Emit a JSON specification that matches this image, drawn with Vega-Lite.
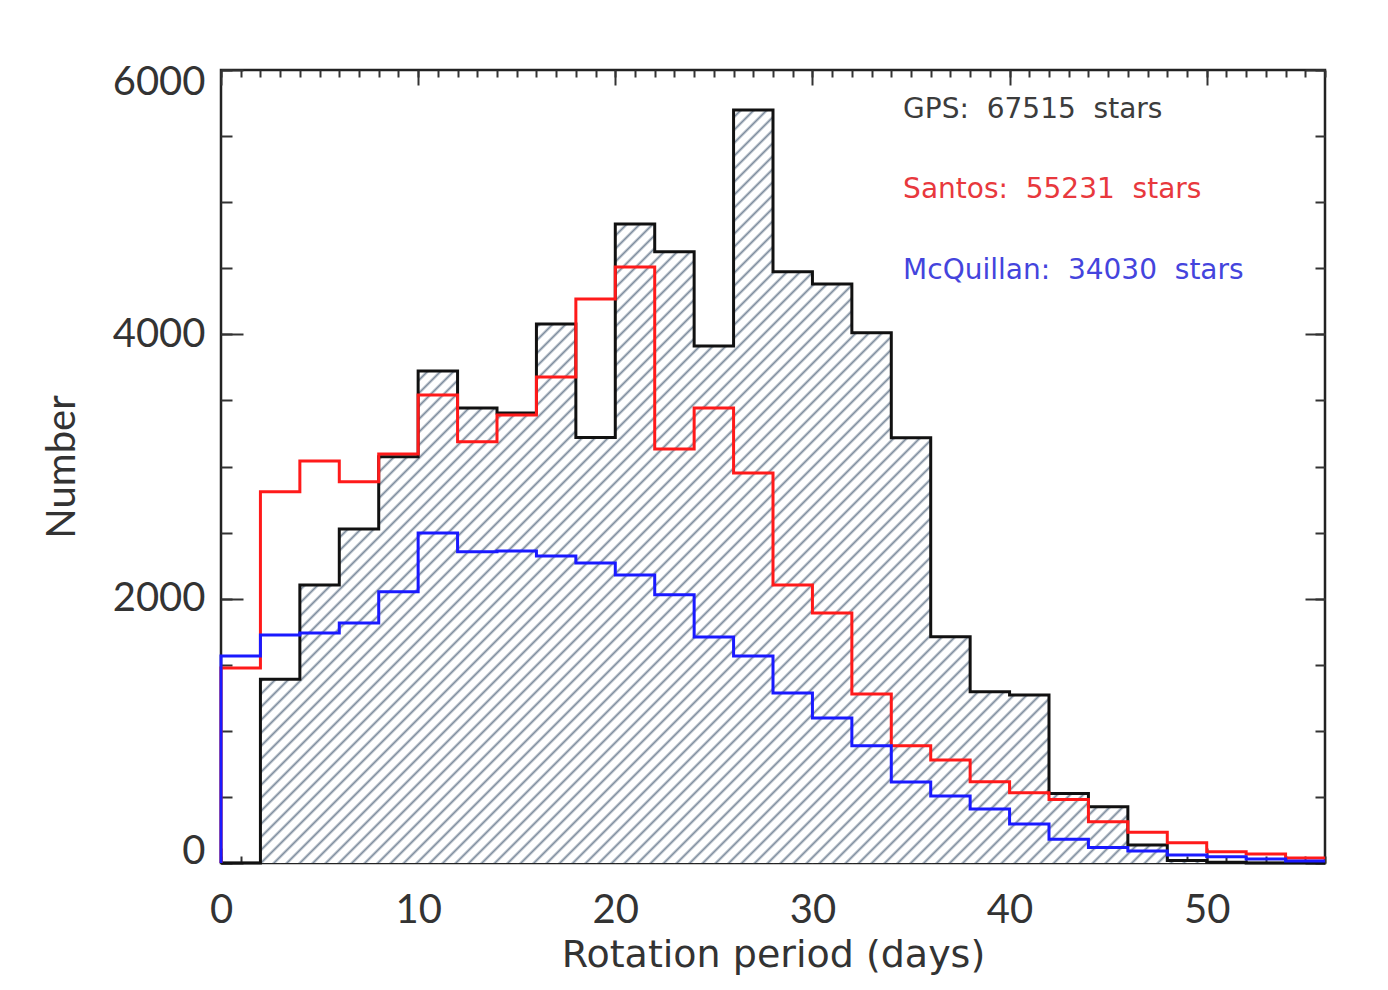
{
"$schema": "https://vega.github.io/schema/vega-lite/v6.json",
"width": 1104, "height": 793,
"autosize": {"type": "none"},
"padding": {"left": 221, "top": 70, "right": 63, "bottom": 127},
"background": "white",
"config": {
  "view": {"stroke": "#222", "strokeWidth": 2.5},
  "axis": {"domain": false, "grid": false, "zindex": 1, "tickColor": "#333", "tickWidth": 2, "labelFont": "Lato", "titleFont": "Lato", "labelFontSize": 40, "titleFontSize": 40, "labelColor": "#333", "titleColor": "#333", "titleFontWeight": "normal"}
},
"datasets": {
  "hist": [
    {"series":"GPS","start":0,"n":0},{"series":"GPS","start":2,"n":1390},{"series":"GPS","start":4,"n":2103},{"series":"GPS","start":6,"n":2527},{"series":"GPS","start":8,"n":3074},{"series":"GPS","start":10,"n":3723},{"series":"GPS","start":12,"n":3442},{"series":"GPS","start":14,"n":3405},{"series":"GPS","start":16,"n":4078},{"series":"GPS","start":18,"n":3220},{"series":"GPS","start":20,"n":4835},{"series":"GPS","start":22,"n":4625},{"series":"GPS","start":24,"n":3912},{"series":"GPS","start":26,"n":5697},{"series":"GPS","start":28,"n":4473},{"series":"GPS","start":30,"n":4380},{"series":"GPS","start":32,"n":4012},{"series":"GPS","start":34,"n":3218},{"series":"GPS","start":36,"n":1712},{"series":"GPS","start":38,"n":1296},{"series":"GPS","start":40,"n":1271},{"series":"GPS","start":42,"n":525},{"series":"GPS","start":44,"n":425},{"series":"GPS","start":46,"n":136},{"series":"GPS","start":48,"n":18},{"series":"GPS","start":50,"n":5},{"series":"GPS","start":52,"n":0},{"series":"GPS","start":54,"n":0},{"series":"GPS","start":56,"n":0},
    {"series":"Santos","start":0,"n":0},{"series":"Santos","start":0,"n":1475},{"series":"Santos","start":2,"n":2809},{"series":"Santos","start":4,"n":3042},{"series":"Santos","start":6,"n":2885},{"series":"Santos","start":8,"n":3095},{"series":"Santos","start":10,"n":3541},{"series":"Santos","start":12,"n":3188},{"series":"Santos","start":14,"n":3390},{"series":"Santos","start":16,"n":3677},{"series":"Santos","start":18,"n":4267},{"series":"Santos","start":20,"n":4510},{"series":"Santos","start":22,"n":3132},{"series":"Santos","start":24,"n":3442},{"series":"Santos","start":26,"n":2950},{"series":"Santos","start":28,"n":2103},{"series":"Santos","start":30,"n":1891},{"series":"Santos","start":32,"n":1278},{"series":"Santos","start":34,"n":887},{"series":"Santos","start":36,"n":779},{"series":"Santos","start":38,"n":615},{"series":"Santos","start":40,"n":532},{"series":"Santos","start":42,"n":480},{"series":"Santos","start":44,"n":312},{"series":"Santos","start":46,"n":233},{"series":"Santos","start":48,"n":154},{"series":"Santos","start":50,"n":86},{"series":"Santos","start":52,"n":68},{"series":"Santos","start":54,"n":38},{"series":"Santos","start":56,"n":38},
    {"series":"McQuillan","start":0,"n":0},{"series":"McQuillan","start":0,"n":1566},{"series":"McQuillan","start":2,"n":1725},{"series":"McQuillan","start":4,"n":1740},{"series":"McQuillan","start":6,"n":1816},{"series":"McQuillan","start":8,"n":2053},{"series":"McQuillan","start":10,"n":2497},{"series":"McQuillan","start":12,"n":2355},{"series":"McQuillan","start":14,"n":2360},{"series":"McQuillan","start":16,"n":2323},{"series":"McQuillan","start":18,"n":2270},{"series":"McQuillan","start":20,"n":2180},{"series":"McQuillan","start":22,"n":2030},{"series":"McQuillan","start":24,"n":1710},{"series":"McQuillan","start":26,"n":1566},{"series":"McQuillan","start":28,"n":1286},{"series":"McQuillan","start":30,"n":1097},{"series":"McQuillan","start":32,"n":887},{"series":"McQuillan","start":34,"n":613},{"series":"McQuillan","start":36,"n":507},{"series":"McQuillan","start":38,"n":408},{"series":"McQuillan","start":40,"n":295},{"series":"McQuillan","start":42,"n":180},{"series":"McQuillan","start":44,"n":118},{"series":"McQuillan","start":46,"n":90},{"series":"McQuillan","start":48,"n":60},{"series":"McQuillan","start":50,"n":48},{"series":"McQuillan","start":52,"n":30},{"series":"McQuillan","start":54,"n":15},{"series":"McQuillan","start":56,"n":15}
  ],
  "notes": [
    {"label":"GPS:\u00a0 67515\u00a0 stars","c":"GPS","lx":34.6,"ly":5697},
    {"label":"Santos:\u00a0 55231\u00a0 stars","c":"Santos","lx":34.6,"ly":5092},
    {"label":"McQuillan:\u00a0 34030\u00a0 stars","c":"McQuillan","lx":34.6,"ly":4479}
  ]
},
"layer": [
  {
    "data": {"name": "hist"},
    "transform": [{"filter": "datum.series === 'GPS'"}],
    "mark": {"type": "area", "interpolate": "step-after", "fill": {"gradient": "linear", "x1": 0, "y1": 0, "x2": 1.148, "y2": 0.783, "stops": [
{"offset":0,"color":"#7e8d9e"},{"offset":0.0015,"color":"#fff"},{"offset":0.0055,"color":"#fff"},
{"offset":0.007,"color":"#7e8d9e"},{"offset":0.0085,"color":"#fff"},{"offset":0.0125,"color":"#fff"},
{"offset":0.014,"color":"#7e8d9e"},{"offset":0.0155,"color":"#fff"},{"offset":0.0195,"color":"#fff"},
{"offset":0.021,"color":"#7e8d9e"},{"offset":0.0225,"color":"#fff"},{"offset":0.0265,"color":"#fff"},
{"offset":0.028,"color":"#7e8d9e"},{"offset":0.0295,"color":"#fff"},{"offset":0.0335,"color":"#fff"},
{"offset":0.035,"color":"#7e8d9e"},{"offset":0.0365,"color":"#fff"},{"offset":0.0405,"color":"#fff"},
{"offset":0.042,"color":"#7e8d9e"},{"offset":0.0435,"color":"#fff"},{"offset":0.0475,"color":"#fff"},
{"offset":0.049,"color":"#7e8d9e"},{"offset":0.0505,"color":"#fff"},{"offset":0.0545,"color":"#fff"},
{"offset":0.056,"color":"#7e8d9e"},{"offset":0.0575,"color":"#fff"},{"offset":0.0615,"color":"#fff"},
{"offset":0.063,"color":"#7e8d9e"},{"offset":0.0645,"color":"#fff"},{"offset":0.0685,"color":"#fff"},
{"offset":0.07,"color":"#7e8d9e"},{"offset":0.0715,"color":"#fff"},{"offset":0.0755,"color":"#fff"},
{"offset":0.077,"color":"#7e8d9e"},{"offset":0.0785,"color":"#fff"},{"offset":0.0825,"color":"#fff"},
{"offset":0.084,"color":"#7e8d9e"},{"offset":0.0855,"color":"#fff"},{"offset":0.0895,"color":"#fff"},
{"offset":0.091,"color":"#7e8d9e"},{"offset":0.0925,"color":"#fff"},{"offset":0.0965,"color":"#fff"},
{"offset":0.098,"color":"#7e8d9e"},{"offset":0.0995,"color":"#fff"},{"offset":0.1035,"color":"#fff"},
{"offset":0.105,"color":"#7e8d9e"},{"offset":0.1065,"color":"#fff"},{"offset":0.1105,"color":"#fff"},
{"offset":0.112,"color":"#7e8d9e"},{"offset":0.1135,"color":"#fff"},{"offset":0.1175,"color":"#fff"},
{"offset":0.119,"color":"#7e8d9e"},{"offset":0.1205,"color":"#fff"},{"offset":0.1245,"color":"#fff"},
{"offset":0.126,"color":"#7e8d9e"},{"offset":0.1275,"color":"#fff"},{"offset":0.1315,"color":"#fff"},
{"offset":0.133,"color":"#7e8d9e"},{"offset":0.1345,"color":"#fff"},{"offset":0.1385,"color":"#fff"},
{"offset":0.14,"color":"#7e8d9e"},{"offset":0.1415,"color":"#fff"},{"offset":0.1455,"color":"#fff"},
{"offset":0.147,"color":"#7e8d9e"},{"offset":0.1485,"color":"#fff"},{"offset":0.1525,"color":"#fff"},
{"offset":0.154,"color":"#7e8d9e"},{"offset":0.1555,"color":"#fff"},{"offset":0.1595,"color":"#fff"},
{"offset":0.161,"color":"#7e8d9e"},{"offset":0.1625,"color":"#fff"},{"offset":0.1665,"color":"#fff"},
{"offset":0.168,"color":"#7e8d9e"},{"offset":0.1695,"color":"#fff"},{"offset":0.1735,"color":"#fff"},
{"offset":0.175,"color":"#7e8d9e"},{"offset":0.1765,"color":"#fff"},{"offset":0.1805,"color":"#fff"},
{"offset":0.182,"color":"#7e8d9e"},{"offset":0.1835,"color":"#fff"},{"offset":0.1875,"color":"#fff"},
{"offset":0.189,"color":"#7e8d9e"},{"offset":0.1905,"color":"#fff"},{"offset":0.1945,"color":"#fff"},
{"offset":0.196,"color":"#7e8d9e"},{"offset":0.1975,"color":"#fff"},{"offset":0.2015,"color":"#fff"},
{"offset":0.203,"color":"#7e8d9e"},{"offset":0.2045,"color":"#fff"},{"offset":0.2085,"color":"#fff"},
{"offset":0.21,"color":"#7e8d9e"},{"offset":0.2115,"color":"#fff"},{"offset":0.2155,"color":"#fff"},
{"offset":0.217,"color":"#7e8d9e"},{"offset":0.2185,"color":"#fff"},{"offset":0.2225,"color":"#fff"},
{"offset":0.224,"color":"#7e8d9e"},{"offset":0.2255,"color":"#fff"},{"offset":0.2295,"color":"#fff"},
{"offset":0.231,"color":"#7e8d9e"},{"offset":0.2325,"color":"#fff"},{"offset":0.2365,"color":"#fff"},
{"offset":0.238,"color":"#7e8d9e"},{"offset":0.2395,"color":"#fff"},{"offset":0.2435,"color":"#fff"},
{"offset":0.245,"color":"#7e8d9e"},{"offset":0.2465,"color":"#fff"},{"offset":0.2505,"color":"#fff"},
{"offset":0.252,"color":"#7e8d9e"},{"offset":0.2535,"color":"#fff"},{"offset":0.2575,"color":"#fff"},
{"offset":0.259,"color":"#7e8d9e"},{"offset":0.2605,"color":"#fff"},{"offset":0.2645,"color":"#fff"},
{"offset":0.266,"color":"#7e8d9e"},{"offset":0.2675,"color":"#fff"},{"offset":0.2715,"color":"#fff"},
{"offset":0.273,"color":"#7e8d9e"},{"offset":0.2745,"color":"#fff"},{"offset":0.2785,"color":"#fff"},
{"offset":0.28,"color":"#7e8d9e"},{"offset":0.2815,"color":"#fff"},{"offset":0.2855,"color":"#fff"},
{"offset":0.287,"color":"#7e8d9e"},{"offset":0.2885,"color":"#fff"},{"offset":0.2925,"color":"#fff"},
{"offset":0.294,"color":"#7e8d9e"},{"offset":0.2955,"color":"#fff"},{"offset":0.2995,"color":"#fff"},
{"offset":0.301,"color":"#7e8d9e"},{"offset":0.3025,"color":"#fff"},{"offset":0.3065,"color":"#fff"},
{"offset":0.308,"color":"#7e8d9e"},{"offset":0.3095,"color":"#fff"},{"offset":0.3135,"color":"#fff"},
{"offset":0.315,"color":"#7e8d9e"},{"offset":0.3165,"color":"#fff"},{"offset":0.3205,"color":"#fff"},
{"offset":0.322,"color":"#7e8d9e"},{"offset":0.3235,"color":"#fff"},{"offset":0.3275,"color":"#fff"},
{"offset":0.329,"color":"#7e8d9e"},{"offset":0.3305,"color":"#fff"},{"offset":0.3345,"color":"#fff"},
{"offset":0.336,"color":"#7e8d9e"},{"offset":0.3375,"color":"#fff"},{"offset":0.3415,"color":"#fff"},
{"offset":0.343,"color":"#7e8d9e"},{"offset":0.3445,"color":"#fff"},{"offset":0.3485,"color":"#fff"},
{"offset":0.35,"color":"#7e8d9e"},{"offset":0.3515,"color":"#fff"},{"offset":0.3555,"color":"#fff"},
{"offset":0.357,"color":"#7e8d9e"},{"offset":0.3585,"color":"#fff"},{"offset":0.3625,"color":"#fff"},
{"offset":0.364,"color":"#7e8d9e"},{"offset":0.3655,"color":"#fff"},{"offset":0.3695,"color":"#fff"},
{"offset":0.371,"color":"#7e8d9e"},{"offset":0.3725,"color":"#fff"},{"offset":0.3765,"color":"#fff"},
{"offset":0.378,"color":"#7e8d9e"},{"offset":0.3795,"color":"#fff"},{"offset":0.3835,"color":"#fff"},
{"offset":0.385,"color":"#7e8d9e"},{"offset":0.3865,"color":"#fff"},{"offset":0.3905,"color":"#fff"},
{"offset":0.392,"color":"#7e8d9e"},{"offset":0.3935,"color":"#fff"},{"offset":0.3975,"color":"#fff"},
{"offset":0.399,"color":"#7e8d9e"},{"offset":0.4005,"color":"#fff"},{"offset":0.4045,"color":"#fff"},
{"offset":0.406,"color":"#7e8d9e"},{"offset":0.4075,"color":"#fff"},{"offset":0.4115,"color":"#fff"},
{"offset":0.413,"color":"#7e8d9e"},{"offset":0.4145,"color":"#fff"},{"offset":0.4185,"color":"#fff"},
{"offset":0.42,"color":"#7e8d9e"},{"offset":0.4215,"color":"#fff"},{"offset":0.4255,"color":"#fff"},
{"offset":0.427,"color":"#7e8d9e"},{"offset":0.4285,"color":"#fff"},{"offset":0.4325,"color":"#fff"},
{"offset":0.434,"color":"#7e8d9e"},{"offset":0.4355,"color":"#fff"},{"offset":0.4395,"color":"#fff"},
{"offset":0.441,"color":"#7e8d9e"},{"offset":0.4425,"color":"#fff"},{"offset":0.4465,"color":"#fff"},
{"offset":0.448,"color":"#7e8d9e"},{"offset":0.4495,"color":"#fff"},{"offset":0.4535,"color":"#fff"},
{"offset":0.455,"color":"#7e8d9e"},{"offset":0.4565,"color":"#fff"},{"offset":0.4605,"color":"#fff"},
{"offset":0.462,"color":"#7e8d9e"},{"offset":0.4635,"color":"#fff"},{"offset":0.4675,"color":"#fff"},
{"offset":0.469,"color":"#7e8d9e"},{"offset":0.4705,"color":"#fff"},{"offset":0.4745,"color":"#fff"},
{"offset":0.476,"color":"#7e8d9e"},{"offset":0.4775,"color":"#fff"},{"offset":0.4815,"color":"#fff"},
{"offset":0.483,"color":"#7e8d9e"},{"offset":0.4845,"color":"#fff"},{"offset":0.4885,"color":"#fff"},
{"offset":0.49,"color":"#7e8d9e"},{"offset":0.4915,"color":"#fff"},{"offset":0.4955,"color":"#fff"},
{"offset":0.497,"color":"#7e8d9e"},{"offset":0.4985,"color":"#fff"},{"offset":0.5025,"color":"#fff"},
{"offset":0.504,"color":"#7e8d9e"},{"offset":0.5055,"color":"#fff"},{"offset":0.5095,"color":"#fff"},
{"offset":0.511,"color":"#7e8d9e"},{"offset":0.5125,"color":"#fff"},{"offset":0.5165,"color":"#fff"},
{"offset":0.518,"color":"#7e8d9e"},{"offset":0.5195,"color":"#fff"},{"offset":0.5235,"color":"#fff"},
{"offset":0.525,"color":"#7e8d9e"},{"offset":0.5265,"color":"#fff"},{"offset":0.5305,"color":"#fff"},
{"offset":0.532,"color":"#7e8d9e"},{"offset":0.5335,"color":"#fff"},{"offset":0.5375,"color":"#fff"},
{"offset":0.539,"color":"#7e8d9e"},{"offset":0.5405,"color":"#fff"},{"offset":0.5445,"color":"#fff"},
{"offset":0.546,"color":"#7e8d9e"},{"offset":0.5475,"color":"#fff"},{"offset":0.5515,"color":"#fff"},
{"offset":0.553,"color":"#7e8d9e"},{"offset":0.5545,"color":"#fff"},{"offset":0.5585,"color":"#fff"},
{"offset":0.56,"color":"#7e8d9e"},{"offset":0.5615,"color":"#fff"},{"offset":0.5655,"color":"#fff"},
{"offset":0.567,"color":"#7e8d9e"},{"offset":0.5685,"color":"#fff"},{"offset":0.5725,"color":"#fff"},
{"offset":0.574,"color":"#7e8d9e"},{"offset":0.5755,"color":"#fff"},{"offset":0.5795,"color":"#fff"},
{"offset":0.581,"color":"#7e8d9e"},{"offset":0.5825,"color":"#fff"},{"offset":0.5865,"color":"#fff"},
{"offset":0.588,"color":"#7e8d9e"},{"offset":0.5895,"color":"#fff"},{"offset":0.5935,"color":"#fff"},
{"offset":0.595,"color":"#7e8d9e"},{"offset":0.5965,"color":"#fff"},{"offset":0.6005,"color":"#fff"},
{"offset":0.602,"color":"#7e8d9e"},{"offset":0.6035,"color":"#fff"},{"offset":0.6075,"color":"#fff"},
{"offset":0.609,"color":"#7e8d9e"},{"offset":0.6105,"color":"#fff"},{"offset":0.6145,"color":"#fff"},
{"offset":0.616,"color":"#7e8d9e"},{"offset":0.6175,"color":"#fff"},{"offset":0.6215,"color":"#fff"},
{"offset":0.623,"color":"#7e8d9e"},{"offset":0.6245,"color":"#fff"},{"offset":0.6285,"color":"#fff"},
{"offset":0.63,"color":"#7e8d9e"},{"offset":0.6315,"color":"#fff"},{"offset":0.6355,"color":"#fff"},
{"offset":0.637,"color":"#7e8d9e"},{"offset":0.6385,"color":"#fff"},{"offset":0.6425,"color":"#fff"},
{"offset":0.644,"color":"#7e8d9e"},{"offset":0.6455,"color":"#fff"},{"offset":0.6495,"color":"#fff"},
{"offset":0.651,"color":"#7e8d9e"},{"offset":0.6525,"color":"#fff"},{"offset":0.6565,"color":"#fff"},
{"offset":0.658,"color":"#7e8d9e"},{"offset":0.6595,"color":"#fff"},{"offset":0.6635,"color":"#fff"},
{"offset":0.665,"color":"#7e8d9e"},{"offset":0.6665,"color":"#fff"},{"offset":0.6705,"color":"#fff"},
{"offset":0.672,"color":"#7e8d9e"},{"offset":0.6735,"color":"#fff"},{"offset":0.6775,"color":"#fff"},
{"offset":0.679,"color":"#7e8d9e"},{"offset":0.6805,"color":"#fff"},{"offset":0.6845,"color":"#fff"},
{"offset":0.686,"color":"#7e8d9e"},{"offset":0.6875,"color":"#fff"},{"offset":0.6915,"color":"#fff"},
{"offset":0.693,"color":"#7e8d9e"},{"offset":0.6945,"color":"#fff"},{"offset":0.6985,"color":"#fff"},
{"offset":0.7,"color":"#7e8d9e"},{"offset":0.7015,"color":"#fff"},{"offset":0.7055,"color":"#fff"},
{"offset":0.707,"color":"#7e8d9e"},{"offset":0.7085,"color":"#fff"},{"offset":0.7125,"color":"#fff"},
{"offset":0.714,"color":"#7e8d9e"},{"offset":0.7155,"color":"#fff"},{"offset":0.7195,"color":"#fff"},
{"offset":0.721,"color":"#7e8d9e"},{"offset":0.7225,"color":"#fff"},{"offset":0.7265,"color":"#fff"},
{"offset":0.728,"color":"#7e8d9e"},{"offset":0.7295,"color":"#fff"},{"offset":0.7335,"color":"#fff"},
{"offset":0.735,"color":"#7e8d9e"},{"offset":0.7365,"color":"#fff"},{"offset":0.7405,"color":"#fff"},
{"offset":0.742,"color":"#7e8d9e"},{"offset":0.7435,"color":"#fff"},{"offset":0.7475,"color":"#fff"},
{"offset":0.749,"color":"#7e8d9e"},{"offset":0.7505,"color":"#fff"},{"offset":0.7545,"color":"#fff"},
{"offset":0.756,"color":"#7e8d9e"},{"offset":0.7575,"color":"#fff"},{"offset":0.7615,"color":"#fff"},
{"offset":0.763,"color":"#7e8d9e"},{"offset":0.7645,"color":"#fff"},{"offset":0.7685,"color":"#fff"},
{"offset":0.77,"color":"#7e8d9e"},{"offset":0.7715,"color":"#fff"},{"offset":0.7755,"color":"#fff"},
{"offset":0.777,"color":"#7e8d9e"},{"offset":0.7785,"color":"#fff"},{"offset":0.7825,"color":"#fff"},
{"offset":0.784,"color":"#7e8d9e"},{"offset":0.7855,"color":"#fff"},{"offset":0.7895,"color":"#fff"},
{"offset":0.791,"color":"#7e8d9e"},{"offset":0.7925,"color":"#fff"},{"offset":0.7965,"color":"#fff"},
{"offset":0.798,"color":"#7e8d9e"},{"offset":0.7995,"color":"#fff"},{"offset":0.8035,"color":"#fff"},
{"offset":0.805,"color":"#7e8d9e"},{"offset":0.8065,"color":"#fff"},{"offset":0.8105,"color":"#fff"},
{"offset":0.812,"color":"#7e8d9e"},{"offset":0.8135,"color":"#fff"},{"offset":0.8175,"color":"#fff"},
{"offset":0.819,"color":"#7e8d9e"},{"offset":0.8205,"color":"#fff"},{"offset":0.8245,"color":"#fff"},
{"offset":0.826,"color":"#7e8d9e"},{"offset":0.8275,"color":"#fff"},{"offset":0.8315,"color":"#fff"},
{"offset":0.833,"color":"#7e8d9e"},{"offset":0.8345,"color":"#fff"},{"offset":0.8385,"color":"#fff"},
{"offset":0.84,"color":"#7e8d9e"},{"offset":0.8415,"color":"#fff"},{"offset":0.8455,"color":"#fff"},
{"offset":0.847,"color":"#7e8d9e"},{"offset":0.8485,"color":"#fff"},{"offset":0.8525,"color":"#fff"},
{"offset":0.854,"color":"#7e8d9e"},{"offset":0.8555,"color":"#fff"},{"offset":0.8595,"color":"#fff"},
{"offset":0.861,"color":"#7e8d9e"},{"offset":0.8625,"color":"#fff"},{"offset":0.8665,"color":"#fff"},
{"offset":0.868,"color":"#7e8d9e"},{"offset":0.8695,"color":"#fff"},{"offset":0.8735,"color":"#fff"},
{"offset":0.875,"color":"#7e8d9e"},{"offset":0.8765,"color":"#fff"},{"offset":0.8805,"color":"#fff"},
{"offset":0.882,"color":"#7e8d9e"},{"offset":0.8835,"color":"#fff"},{"offset":0.8875,"color":"#fff"},
{"offset":0.889,"color":"#7e8d9e"},{"offset":0.8905,"color":"#fff"},{"offset":0.8945,"color":"#fff"},
{"offset":0.896,"color":"#7e8d9e"},{"offset":0.8975,"color":"#fff"},{"offset":0.9015,"color":"#fff"},
{"offset":0.903,"color":"#7e8d9e"},{"offset":0.9045,"color":"#fff"},{"offset":0.9085,"color":"#fff"},
{"offset":0.91,"color":"#7e8d9e"},{"offset":0.9115,"color":"#fff"},{"offset":0.9155,"color":"#fff"},
{"offset":0.917,"color":"#7e8d9e"},{"offset":0.9185,"color":"#fff"},{"offset":0.9225,"color":"#fff"},
{"offset":0.924,"color":"#7e8d9e"},{"offset":0.9255,"color":"#fff"},{"offset":0.9295,"color":"#fff"},
{"offset":0.931,"color":"#7e8d9e"},{"offset":0.9325,"color":"#fff"},{"offset":0.9365,"color":"#fff"},
{"offset":0.938,"color":"#7e8d9e"},{"offset":0.9395,"color":"#fff"},{"offset":0.9435,"color":"#fff"},
{"offset":0.945,"color":"#7e8d9e"},{"offset":0.9465,"color":"#fff"},{"offset":0.9505,"color":"#fff"},
{"offset":0.952,"color":"#7e8d9e"},{"offset":0.9535,"color":"#fff"},{"offset":0.9575,"color":"#fff"},
{"offset":0.959,"color":"#7e8d9e"},{"offset":0.9605,"color":"#fff"},{"offset":0.9645,"color":"#fff"},
{"offset":0.966,"color":"#7e8d9e"},{"offset":0.9675,"color":"#fff"},{"offset":0.9715,"color":"#fff"},
{"offset":0.973,"color":"#7e8d9e"},{"offset":0.9745,"color":"#fff"},{"offset":0.9785,"color":"#fff"},
{"offset":0.98,"color":"#7e8d9e"},{"offset":0.9815,"color":"#fff"},{"offset":0.9855,"color":"#fff"},
{"offset":0.987,"color":"#7e8d9e"},{"offset":0.9885,"color":"#fff"},{"offset":0.9925,"color":"#fff"},
{"offset":0.994,"color":"#7e8d9e"},{"offset":0.9955,"color":"#fff"},{"offset":1,"color":"#fff"}
    ]}},
    "encoding": {
      "x": {"field": "start", "type": "quantitative", "scale": {"domain": [0, 56], "nice": false, "zero": false},
            "axis": {"orient": "bottom", "values": [0, 10, 20, 30, 40, 50], "ticks": false, "labelPadding": 27, "labelFlush": false, "title": "Rotation period (days)", "titleFont": "DejaVu Sans", "titleFontSize": 38, "titlePadding": 6}},
      "y": {"field": "n", "type": "quantitative", "scale": {"domain": [0, 6000], "nice": false},
            "axis": {"orient": "left", "values": [0, 2000, 4000, 6000], "format": "d", "ticks": false, "labelPadding": 16, "labelFlush": true, "labelFlushOffset": 8, "title": "Number", "titlePadding": 30}}
    }
  },
  {
    "data": {"name": "hist"},
    "transform": [{"filter": "datum.series === 'GPS'"}],
    "mark": {"type": "line", "interpolate": "step-after", "color": "#111111", "strokeWidth": 3},
    "encoding": {
      "x": {"field": "start", "type": "quantitative", "scale": {"domain": [0, 56], "nice": false, "zero": false},
            "axis": {"orient": "bottom", "values": [0, 10, 20, 30, 40, 50], "labels": false, "tickSize": -15, "title": null}},
      "y": {"field": "n", "type": "quantitative", "scale": {"domain": [0, 6000], "nice": false},
            "axis": {"orient": "left", "values": [0, 2000, 4000, 6000], "labels": false, "tickSize": -22, "title": null}},
      "order": {"value": null}
    }
  },
  {
    "data": {"name": "hist"},
    "transform": [{"filter": "datum.series === 'Santos'"}],
    "mark": {"type": "line", "interpolate": "step-after", "color": "#ff1a1a", "strokeWidth": 3},
    "encoding": {
      "x": {"field": "start", "type": "quantitative", "scale": {"domain": [0, 56], "nice": false, "zero": false},
            "axis": {"orient": "bottom", "values": [0,1,2,3,4,5,6,7,8,9,10,11,12,13,14,15,16,17,18,19,20,21,22,23,24,25,26,27,28,29,30,31,32,33,34,35,36,37,38,39,40,41,42,43,44,45,46,47,48,49,50,51,52,53,54,55,56], "labels": false, "tickSize": -7, "title": null}},
      "y": {"field": "n", "type": "quantitative", "scale": {"domain": [0, 6000], "nice": false},
            "axis": {"orient": "left", "values": [0,500,1000,1500,2000,2500,3000,3500,4000,4500,5000,5500,6000], "labels": false, "tickSize": -11, "title": null}},
      "order": {"value": null}
    }
  },
  {
    "data": {"name": "hist"},
    "transform": [{"filter": "datum.series === 'McQuillan'"}],
    "mark": {"type": "line", "interpolate": "step-after", "color": "#1a1aff", "strokeWidth": 3},
    "encoding": {
      "x": {"field": "start", "type": "quantitative", "scale": {"domain": [0, 56], "nice": false, "zero": false},
            "axis": {"orient": "top", "values": [0, 10, 20, 30, 40, 50], "labels": false, "tickSize": -15, "title": null}},
      "y": {"field": "n", "type": "quantitative", "scale": {"domain": [0, 6000], "nice": false},
            "axis": {"orient": "right", "values": [0, 2000, 4000, 6000], "labels": false, "tickSize": -20, "title": null}},
      "order": {"value": null}
    }
  },
  {
    "data": {"name": "notes"},
    "mark": {"type": "text", "align": "left", "baseline": "middle", "font": "DejaVu Sans", "fontSize": 28},
    "encoding": {
      "x": {"field": "lx", "type": "quantitative", "scale": {"domain": [0, 56], "nice": false, "zero": false},
            "axis": {"orient": "top", "values": [0,1,2,3,4,5,6,7,8,9,10,11,12,13,14,15,16,17,18,19,20,21,22,23,24,25,26,27,28,29,30,31,32,33,34,35,36,37,38,39,40,41,42,43,44,45,46,47,48,49,50,51,52,53,54,55,56], "labels": false, "tickSize": -7, "title": null}},
      "y": {"field": "ly", "type": "quantitative", "scale": {"domain": [0, 6000], "nice": false},
            "axis": {"orient": "right", "values": [0,500,1000,1500,2000,2500,3000,3500,4000,4500,5000,5500,6000], "labels": false, "tickSize": -10, "title": null}},
      "text": {"field": "label"},
      "color": {"field": "c", "type": "nominal", "scale": {"domain": ["GPS", "Santos", "McQuillan"], "range": ["#3c3c3c", "#e8383d", "#4444dd"]}, "legend": null}
    }
  }
],
"resolve": {"axis": {"x": "independent", "y": "independent"}}
}
